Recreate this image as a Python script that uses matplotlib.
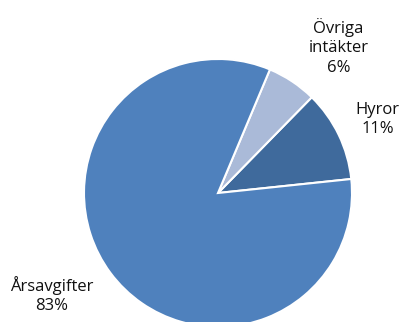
import matplotlib.pyplot as plt

labels = ["Hyror", "Övriga\nintäkter", "Årsavgifter"]
values = [11, 6, 83]
colors = ["#3F6A9C", "#AABAD8", "#4F81BD"]
# label anchor positions (axes-data units, pie radius = 1)
label_pos = [(1.19, 0.55), (0.90, 1.09), (-1.24, -0.76)]

plt.rcParams['font.family'] = ['Open Sans', 'DejaVu Sans']

fig = plt.figure(figsize=(4, 3.22), dpi=100)
ax = fig.add_axes([0, 0, 1, 1])

wedges, _ = ax.pie(values, colors=colors, startangle=6, counterclock=True,
                   radius=1, center=(0, 0),
                   wedgeprops=dict(edgecolor="white", linewidth=1.5))

for lab, v, (x, y) in zip(labels, values, label_pos):
    ax.text(x, y, f"{lab}\n{v}%", ha="center", va="center", fontsize=12,
            linespacing=1.3, color="#111111")

# pixel layout: centre at (218, 193), radius 134 px
r = 134.0
ax.set_xlim(-218 / r, (400 - 218) / r)
ax.set_ylim(-(322 - 193) / r, 193 / r)
ax.set_aspect("auto")
ax.axis("off")

fig.savefig("out.png", dpi=100)
